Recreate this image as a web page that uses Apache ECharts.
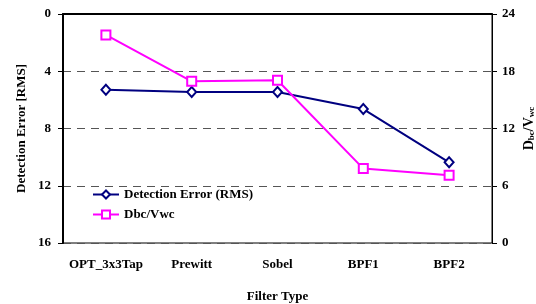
<!DOCTYPE html>
<html><head><meta charset="utf-8">
<script src="https://cdn.jsdelivr.net/npm/echarts@6/dist/echarts.min.js"></script>
<style>html,body{margin:0;padding:0;background:#fff}#c{width:536px;height:304px}</style>
</head><body><div id="c"></div>
<script>
const categories = ['OPT_3x3Tap', 'Prewitt', 'Sobel', 'BPF1', 'BPF2'];
const detectionError = [5.3, 5.45, 5.45, 6.64, 10.36];
const dbcVwc = [21.8, 16.95, 17.05, 7.8, 7.1];
const leftTicks = [0, 4, 8, 12, 16];
const rightTicks = [0, 6, 12, 18, 24];

const font = 'Liberation Serif';
const chart = echarts.init(document.getElementById('c'), null, {renderer: 'canvas'});
chart.setOption({
  animation: false,
  backgroundColor: '#fff',
  textStyle: {fontFamily: font},
  grid: {left: 63, right: 44, top: 14, bottom: 61, show: true, borderColor: '#000', borderWidth: 1,
    containLabel: false, outerBoundsMode: 'none'},
  legend: {
    orient: 'vertical', left: 92, top: 188, padding: 0, itemWidth: 26, itemHeight: 10, itemGap: 7,
    textStyle: {fontFamily: font, fontWeight: 'bold', fontSize: 13, color: '#000'},
    data: ['Detection Error (RMS)', 'Dbc/Vwc']
  },
  xAxis: {
    type: 'category', data: categories, boundaryGap: true,
    axisLine: {lineStyle: {color: '#000', width: 2}},
    axisTick: {inside: true, length: 5, lineStyle: {color: '#000', width: 1}},
    axisLabel: {fontFamily: font, fontWeight: 'bold', fontSize: 13, color: '#000', margin: 15, interval: 0},
    name: 'Filter Type', nameLocation: 'middle', nameGap: 47, nameMoveOverlap: false,
    nameTextStyle: {fontFamily: font, fontWeight: 'bold', fontSize: 13, color: '#000'}
  },
  yAxis: [{
    type: 'value', inverse: true, min: leftTicks[0], max: leftTicks[leftTicks.length - 1], interval: 4,
    axisLine: {show: true, lineStyle: {color: '#000', width: 2}},
    axisTick: {show: true, inside: false, length: 5, lineStyle: {color: '#000'}},
    axisLabel: {fontFamily: font, fontWeight: 'bold', fontSize: 13, color: '#000', margin: 12},
    splitLine: {show: true, lineStyle: {color: '#555', type: [8, 6], width: 1}},
    name: 'Detection Error [RMS]', nameLocation: 'middle', nameGap: 41, nameRotate: 90, nameMoveOverlap: false,
    nameTextStyle: {fontFamily: font, fontWeight: 'bold', fontSize: 13, color: '#000', verticalAlign: 'middle'}
  }, {
    type: 'value', min: rightTicks[0], max: rightTicks[rightTicks.length - 1], interval: 6, position: 'right',
    axisLine: {show: true, lineStyle: {color: '#000', width: 1}},
    axisTick: {show: true, inside: false, length: 5, lineStyle: {color: '#000'}},
    axisLabel: {fontFamily: font, fontWeight: 'bold', fontSize: 13, color: '#000', margin: 10},
    splitLine: {show: false},
    name: 'D{s|bc}/V{s|wc}', nameLocation: 'middle', nameGap: 37, nameRotate: 90, nameMoveOverlap: false,
    nameTextStyle: {fontFamily: font, fontWeight: 'bold', fontSize: 14, color: '#000', verticalAlign: 'middle',
      rich: {s: {fontFamily: font, fontWeight: 'bold', fontSize: 9, color: '#000', padding: [5, 0, 0, 0]}}}
  }],
  series: [{
    name: 'Detection Error (RMS)', type: 'line', yAxisIndex: 0, data: detectionError,
    symbol: 'emptyDiamond', symbolSize: [9, 10],
    lineStyle: {color: '#000080', width: 2}, itemStyle: {color: '#000080', borderWidth: 1}
  }, {
    name: 'Dbc/Vwc', type: 'line', yAxisIndex: 1, data: dbcVwc,
    symbol: 'emptyRect', symbolSize: 9,
    lineStyle: {color: '#FF00FF', width: 2}, itemStyle: {color: '#FF00FF', borderWidth: 1}
  }]
});
</script></body></html>
